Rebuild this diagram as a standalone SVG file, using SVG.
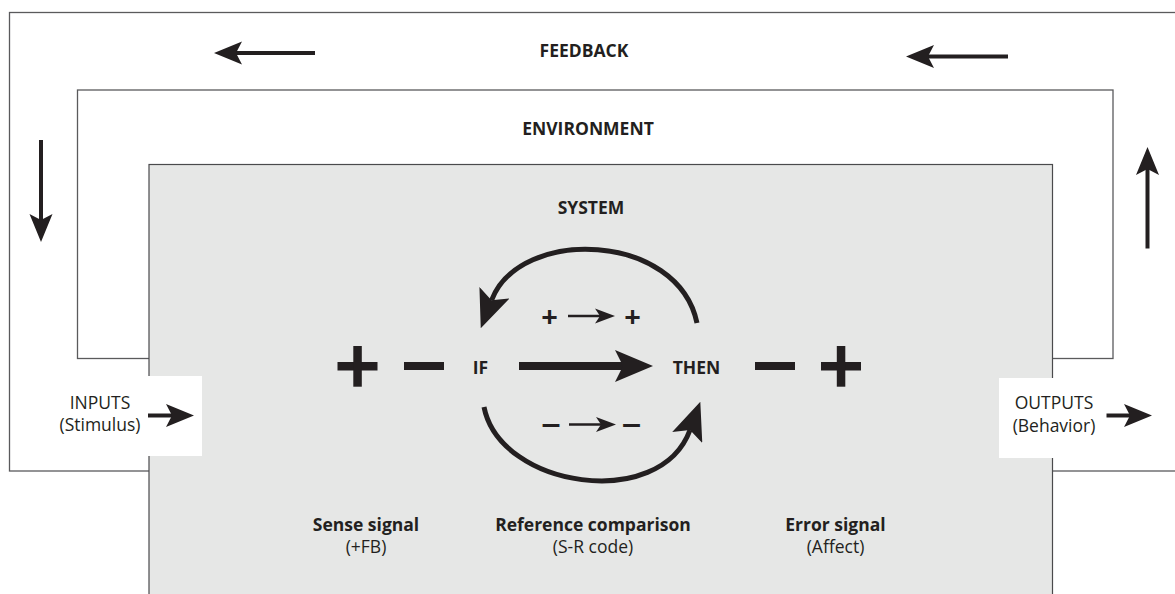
<svg xmlns="http://www.w3.org/2000/svg" width="1175" height="594" viewBox="0 0 1175 594">
  <style>
    .frame { fill: #ffffff; stroke: #5a5a5c; stroke-width: 1.3; }
    .sys { fill: #e6e7e6; stroke: #4a4a4c; stroke-width: 1.2; }
    .cut { fill: #ffffff; stroke: none; }
    .t { font-family: "Open Sans", "Liberation Sans", sans-serif; font-size: 17.5px; fill: #231f20; text-anchor: middle; }
    .b { font-weight: 700; }
    .sym { font-family: "Open Sans", "Liberation Sans", sans-serif; font-weight: 700; fill: #231f20; text-anchor: middle; }
    .ink { fill: #231f20; }
    .wire { stroke: #231f20; stroke-width: 4; fill: none; }
    .wire-big { stroke: #231f20; stroke-width: 8; fill: none; }
    .wire-arc { stroke: #231f20; stroke-width: 5; fill: none; }
    .wire-thin { stroke: #231f20; stroke-width: 2.5; fill: none; }
  </style>
  <defs>
    <marker id="ah" viewBox="0 0 28 24" refX="6" refY="12" markerWidth="28" markerHeight="24" markerUnits="userSpaceOnUse" orient="auto">
      <path d="M28,12 L0,0.5 L6,12 L0,23.5 Z" fill="#231f20"/>
    </marker>
    <marker id="ahBig" viewBox="0 0 38 32" refX="8" refY="16" markerWidth="38" markerHeight="32" markerUnits="userSpaceOnUse" orient="auto">
      <path d="M38,16 L0,0 L8,16 L0,32 Z" fill="#231f20"/>
    </marker>
    <marker id="ahSmall" viewBox="0 0 20 16" refX="5" refY="8" markerWidth="20" markerHeight="16" markerUnits="userSpaceOnUse" orient="auto">
      <path d="M20,8 L0,0.5 L5,8 L0,15.5 Z" fill="#231f20"/>
    </marker>
  </defs>

  <rect width="1175" height="594" fill="#ffffff"/>

  <!-- nested boxes -->
  <g id="feedback">
    <rect class="frame" x="9.5" y="12.5" width="1180" height="458.5"/>
    <text class="t b" x="584" y="57">FEEDBACK</text>
  </g>
  <g id="environment">
    <rect class="frame" x="77.5" y="90" width="1035.5" height="268.5"/>
    <text class="t b" x="588" y="134.5">ENVIRONMENT</text>
  </g>
  <g id="system">
    <rect class="sys" x="149" y="164.5" width="903.5" height="450"/>
    <text class="t b" x="591" y="214">SYSTEM</text>
  </g>

  <!-- openings in the system wall -->
  <g id="inputs">
    <rect class="cut" x="144" y="376" width="58" height="80"/>
    <text class="t" x="100" y="409">INPUTS</text>
    <text class="t" x="100" y="431">(Stimulus)</text>
  </g>
  <g id="outputs">
    <rect class="cut" x="999" y="378" width="60" height="80"/>
    <text class="t" x="1054" y="409">OUTPUTS</text>
    <text class="t" x="1054" y="431.5">(Behavior)</text>
  </g>

  <!-- sign chain -->
  <g id="left-signs">
    <rect class="ink" x="337.5" y="362" width="40" height="8.5"/>
    <rect class="ink" x="353.3" y="346" width="8.5" height="40.7"/>
    <rect class="ink" x="404" y="362" width="40" height="8"/>
  </g>
  <g id="if">
    <text class="t b" x="480.5" y="374">IF</text>
  </g>
  <g id="then">
    <text class="t b" x="696.5" y="374">THEN</text>
  </g>
  <g id="right-signs">
    <rect class="ink" x="755" y="362" width="40" height="8"/>
    <rect class="ink" x="821" y="362" width="40" height="8.5"/>
    <rect class="ink" x="836.8" y="346" width="8.5" height="40.7"/>
  </g>
  <g id="rule-positive">
    <text class="sym" x="549.5" y="326.5" font-size="29">+</text>
    <text class="sym" x="632.5" y="326.5" font-size="29">+</text>
  </g>
  <g id="rule-negative">
    <text class="sym" x="551" y="432.5" font-size="27" textLength="20" lengthAdjust="spacingAndGlyphs">–</text>
    <text class="sym" x="631.5" y="432.5" font-size="27" textLength="20" lengthAdjust="spacingAndGlyphs">–</text>
  </g>

  <!-- bottom captions -->
  <g id="sense">
    <text class="t b" x="366" y="531">Sense signal</text>
    <text class="t" x="366" y="553">(+FB)</text>
  </g>
  <g id="reference">
    <text class="t b" x="593" y="531">Reference comparison</text>
    <text class="t" x="593" y="553">(S-R code)</text>
  </g>
  <g id="error">
    <text class="t b" x="835.5" y="531">Error signal</text>
    <text class="t" x="835.5" y="553">(Affect)</text>
  </g>

  <!-- connectors -->
  <g id="connectors">
    <line class="wire" x1="315" y1="53" x2="236" y2="53" marker-end="url(#ah)"/>
    <line class="wire" x1="1008" y1="56.5" x2="928" y2="56.5" marker-end="url(#ah)"/>
    <line class="wire" x1="41" y1="140" x2="41" y2="220" marker-end="url(#ah)"/>
    <line class="wire" x1="1147.5" y1="248.5" x2="1147.5" y2="169" marker-end="url(#ah)"/>
    <line class="wire" x1="148" y1="415.5" x2="172" y2="415.5" marker-end="url(#ah)"/>
    <line class="wire" x1="1106.5" y1="415.5" x2="1130" y2="415.5" marker-end="url(#ah)"/>
    <line class="wire-big" x1="519" y1="366" x2="623" y2="366" marker-end="url(#ahBig)"/>
    <path class="wire-arc" d="M697,323 C678,232 520,226 491.5,300.3" marker-end="url(#ahBig)"/>
    <path class="wire-arc" d="M484,407 C500,488 660,512 690,430" marker-end="url(#ahBig)"/>
    <line class="wire-thin" x1="568" y1="316" x2="600" y2="316" marker-end="url(#ahSmall)"/>
    <line class="wire-thin" x1="569" y1="424.5" x2="601" y2="424.5" marker-end="url(#ahSmall)"/>
  </g>
</svg>
